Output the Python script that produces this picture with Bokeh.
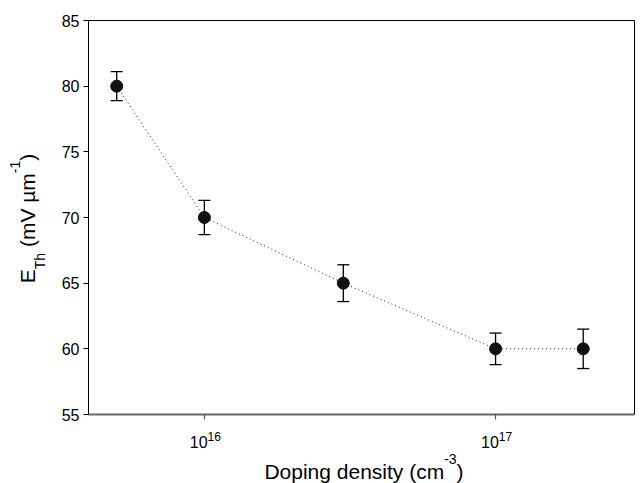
import math
from bokeh.plotting import figure
from bokeh.models import Range1d, FixedTicker, Label, CustomJSTickFormatter, LogAxis, LinearAxis
from bokeh.embed import file_html
from bokeh.resources import INLINE

# ---- data ----
doping = [5e15, 1e16, 3e16, 1e17, 2e17]
eth = [80, 70, 65, 60, 60]
eth_upper = [81.1, 71.3, 66.4, 61.2, 61.5]
eth_lower = [78.9, 68.7, 63.6, 58.8, 58.5]
x_tick_exponents = [16, 17]
y_ticks = [55, 60, 65, 70, 75, 80, 85]
x_lim = (4e15, 3e17)
y_lim = (55, 85)

# ---- layout (canvas pixels) ----
CW, CH = 640, 483
BOX_L, BOX_R, BOX_T, BOX_B = 88, 634, 20, 414
BASE_FIX = 0.3   # label baseline correction, fraction of font size

FONT = "Liberation Sans"
# Arial / Liberation Sans advance widths (per 1000 em)
W = {" ": 278, "(": 333, ")": 333, "-": 333, "D": 722, "E": 667, "T": 611,
     "V": 667, "c": 500, "d": 556, "e": 556, "g": 556, "h": 556, "i": 222,
     "m": 833, "n": 556, "o": 556, "p": 556, "s": 500, "t": 278, "y": 500,
     "\u00b5": 576}
for ch in "0123456789":
    W[ch] = 556


def tw(s, size):
    return sum(W[c] for c in s) * size / 1000.0


# extend ranges so the plotting box sits inside a frame covering the canvas
lx0, lx1 = math.log10(x_lim[0]), math.log10(x_lim[1])
kx = (lx1 - lx0) / (BOX_R - BOX_L)
x_full = (10 ** (lx0 - BOX_L * kx), 10 ** (lx1 + (CW - BOX_R) * kx))
ky = (y_lim[1] - y_lim[0]) / (BOX_B - BOX_T)
y_full = (y_lim[0] - (CH - BOX_B) * ky, y_lim[1] + BOX_T * ky)

p = figure(width=CW, height=CH, x_axis_type="log",
           x_range=Range1d(*x_full), y_range=Range1d(*y_full),
           output_backend="svg", toolbar_location=None,
           min_border=0, min_border_left=0, min_border_right=0,
           min_border_top=0, min_border_bottom=0)
p.title.visible = False
p.grid.visible = False
p.outline_line_color = None
p.background_fill_color = "white"
p.border_fill_color = "white"

# connecting dotted line
p.line(doping, eth, line_color="#222222", line_width=1, line_dash="1 3")
# error bars
p.segment(x0=doping, y0=eth_lower, x1=doping, y1=eth_upper,
          line_color="black", line_width=1.3)
p.scatter(doping, eth_upper, marker="dash", size=12,
          line_color="black", line_width=1.3)
p.scatter(doping, eth_lower, marker="dash", size=12,
          line_color="black", line_width=1.3)
# markers
p.scatter(doping, eth, marker="circle", size=12,
          fill_color="#111111", line_color="#111111")

# bottom x axis
xa = p.xaxis[0]
xa.fixed_location = y_lim[0]
xa.bounds = x_lim
xa.ticker = FixedTicker(ticks=[10.0 ** e for e in x_tick_exponents], minor_ticks=[])
xa.formatter = CustomJSTickFormatter(code="return ''")
xa.major_tick_in = 0
xa.major_tick_out = 5
xa.minor_tick_in = 0
xa.minor_tick_out = 0
xa.axis_line_color = "#666666"
xa.axis_line_width = 2
xa.major_tick_line_color = "#555555"
xa.major_tick_line_width = 1.2

# left y axis
ya = p.yaxis[0]
ya.fixed_location = x_lim[0]
ya.bounds = y_lim
ya.ticker = FixedTicker(ticks=y_ticks, minor_ticks=[])
ya.major_label_text_font = FONT
ya.major_label_text_font_size = "16px"
ya.major_label_text_color = "black"
ya.major_tick_in = 0
ya.major_tick_out = 5
ya.minor_tick_in = 0
ya.minor_tick_out = 0
ya.axis_line_color = "black"
ya.major_tick_line_color = "black"
ya.major_label_standoff = 4

# top and right box edges
top = LogAxis(fixed_location=y_lim[1], bounds=x_lim,
              ticker=FixedTicker(ticks=[], minor_ticks=[]),
              formatter=CustomJSTickFormatter(code="return ''"),
              major_tick_out=0, major_tick_in=0, minor_tick_out=0, minor_tick_in=0,
              axis_line_color="black", axis_line_width=1)
right = LinearAxis(fixed_location=x_lim[1], bounds=y_lim,
                   ticker=FixedTicker(ticks=[], minor_ticks=[]),
                   formatter=CustomJSTickFormatter(code="return ''"),
                   major_tick_out=0, major_tick_in=0, minor_tick_out=0, minor_tick_in=0,
                   axis_line_color="black", axis_line_width=1)
p.add_layout(top, "above")
p.add_layout(right, "right")


def lab(x, y, dx, dy, txt, size, angle=0.0):
    # dx, dy: baseline position relative to anchor (px, +y up); corrected for
    # the renderer's baseline placement along the text's "down" direction
    fix = BASE_FIX * size
    if angle:
        dx -= fix
    else:
        dy += fix
    p.add_layout(Label(x=x, y=y, x_offset=dx, y_offset=dy, text=txt,
                       text_font=FONT, text_font_size=f"{size}px", angle=angle,
                       text_align="left", text_baseline="alphabetic",
                       text_color="black"))


# x tick labels 10^n
TF, TS, TR = 16, 12, 6
for e in x_tick_exponents:
    base, sup = "10", str(e)
    tot = tw(base, TF) + tw(sup, TS)
    x0 = -tot / 2 + 1
    lab(10.0 ** e, y_lim[0], x0, -32, base, TF)
    lab(10.0 ** e, y_lim[0], x0 + tw(base, TF), -32 + TR, sup, TS)

# x axis title: Doping density (cm^-3)
XF, XS, XR = 21, 14, 14
xt_main, xt_sup, xt_close = "Doping density (cm", "-3", ")"
xt_tot = tw(xt_main, XF) + tw(xt_sup, XS) + tw(xt_close, XF)
xc = math.sqrt(x_lim[0] * x_lim[1])
xs = -xt_tot / 2 + 2.5
xy = -63
lab(xc, y_lim[0], xs, xy, xt_main, XF)
lab(xc, y_lim[0], xs + tw(xt_main, XF), xy + XR, xt_sup, XS)
lab(xc, y_lim[0], xs + tw(xt_main, XF) + tw(xt_sup, XS), xy, xt_close, XF)

# y axis title: E_Th (mV µm^-1); gaps are advanced explicitly (SVG drops leading spaces)
YF, YS = 21, 14
pieces = [("E", YF, 0, 0), ("Th", YS, 11, 0), ("(mV \u00b5m", YF, 0, tw(" ", YF)),
          ("-1", YS, -14, 0), (")", YF, 0, 0)]
yt_tot = sum(tw(t, s) + g for t, s, _, g in pieces)
ym = (y_lim[0] + y_lim[1]) / 2
cur = -yt_tot / 2 - 1
for txt, size, dx, gap in pieces:
    cur += gap
    lab(x_lim[0], ym, -55 + dx, cur, txt, size, angle=math.pi / 2)
    cur += tw(txt, size)

open("out.html", "w").write(file_html(p, INLINE))
